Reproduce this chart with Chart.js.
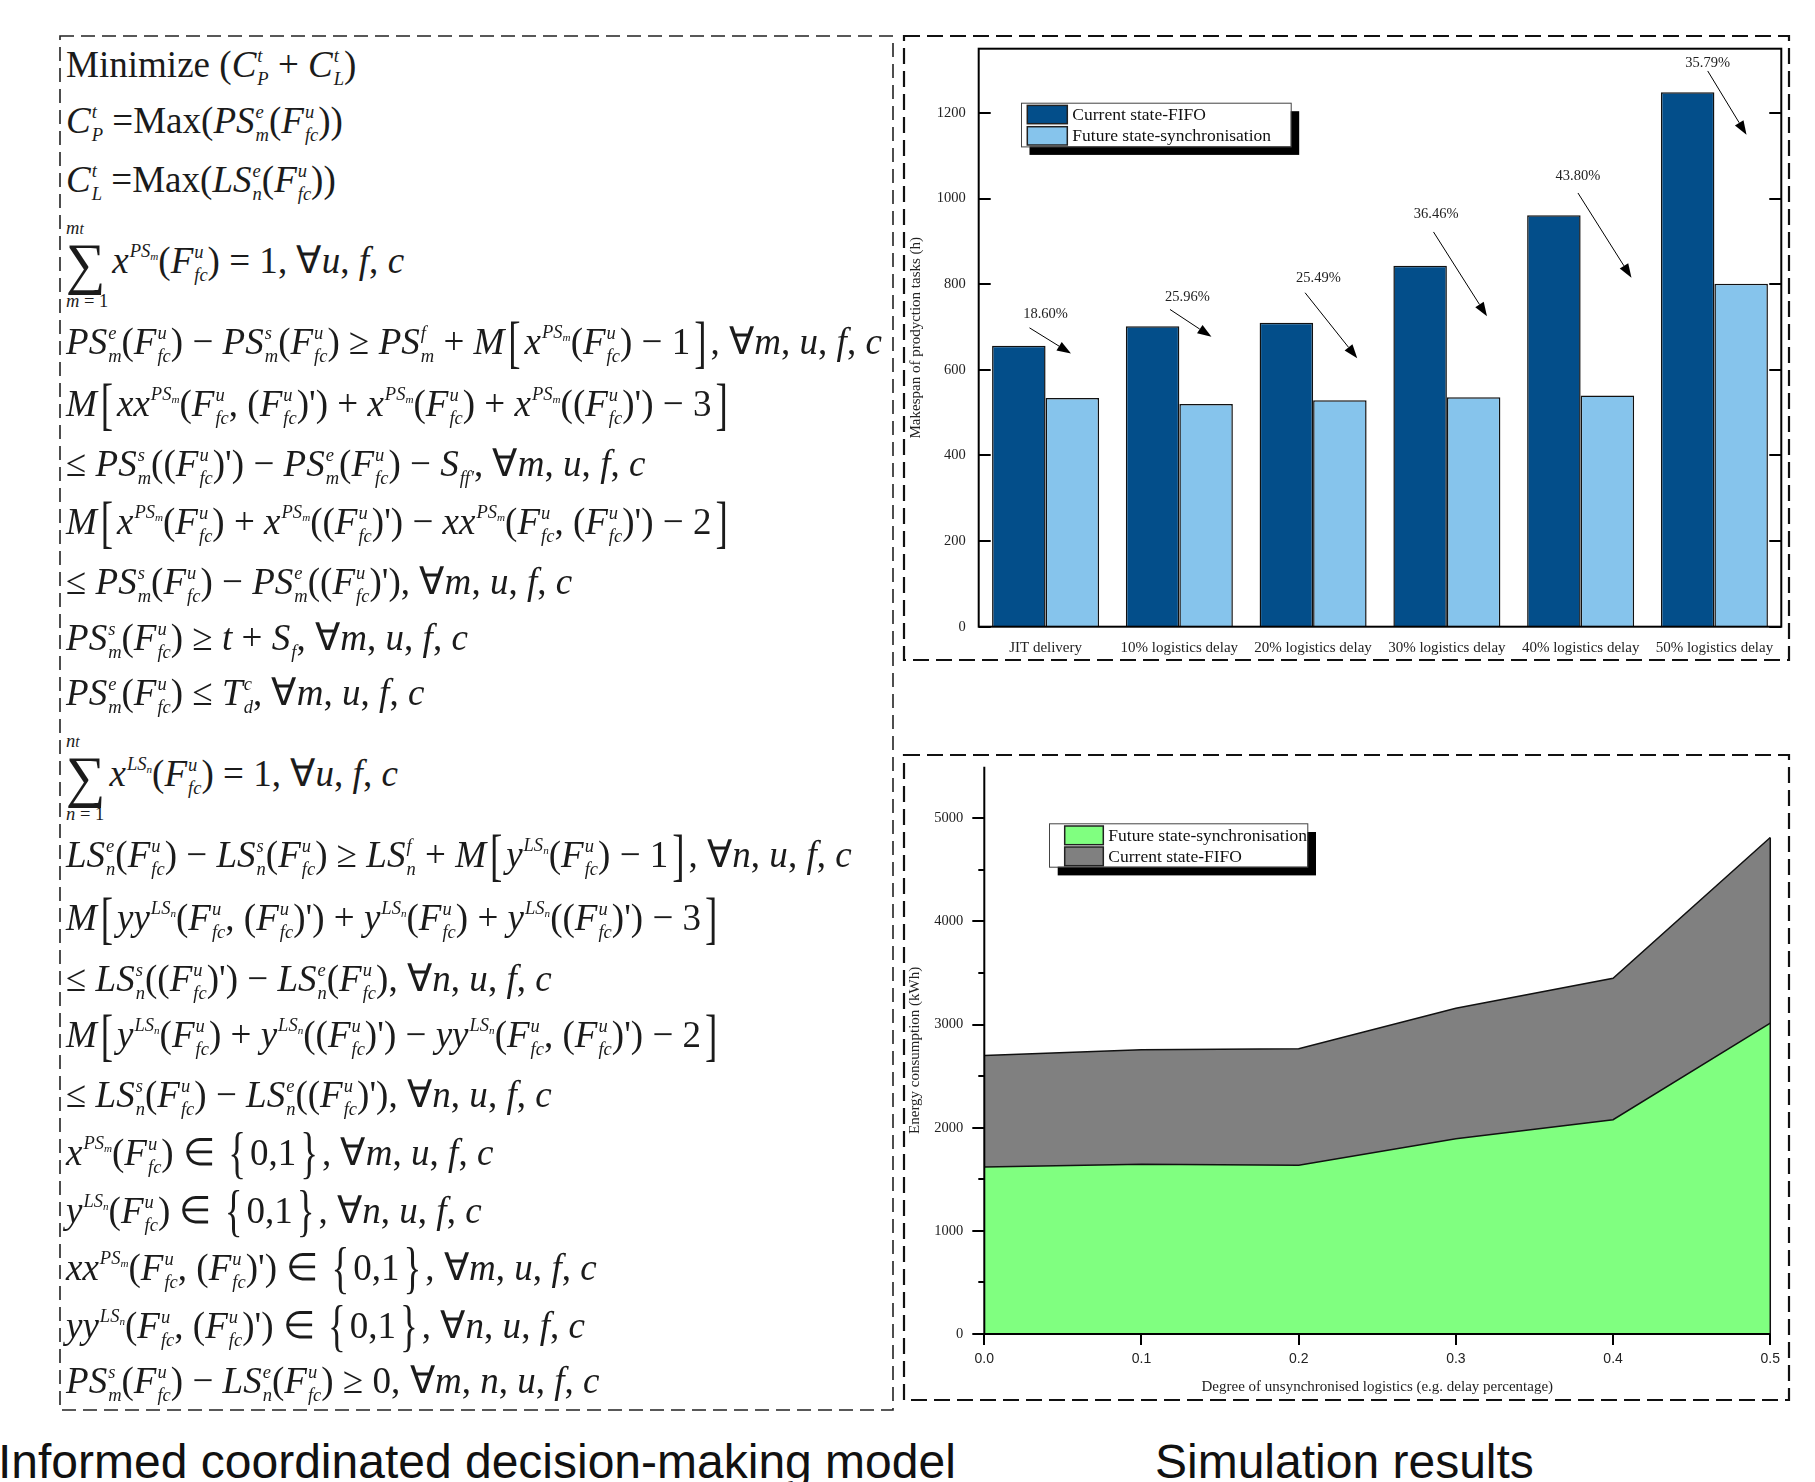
<!DOCTYPE html>
<html>
<head>
<meta charset="utf-8">
<script src="https://cdn.jsdelivr.net/npm/chart.js@4.4.0/dist/chart.umd.min.js"></script>
<style>
  html, body { margin: 0; padding: 0; background: #fff; }
  body { width: 1815px; height: 1482px; position: relative; overflow: hidden; }
  #frames { position: absolute; left: 0; top: 0; }
  canvas { position: absolute; }
  #makespanChart { left: 906px; top: 27px; }
  #energyChart { left: 906px; top: 749px; }
  .eq {
    position: absolute; left: 66px; height: 60px; line-height: 60px;
    font-family: 'Liberation Serif', 'Times New Roman', serif; font-size: 38px;
    color: #1b1b1b; white-space: nowrap; transform-origin: 0 50%;
  }
  .eq i { font-style: italic; }
  .sc { display: inline-block; vertical-align: -8px; font-size: 0.5em; line-height: 1.2; margin-left: 1px; }
  .sc > span { display: block; }
  .sc small { font-size: 0.6em; vertical-align: -0.3em; }
  .br { display: inline-block; transform: scaleY(1.5); margin: 0 4px; font-weight: normal; }
  .sum { display: inline-block; vertical-align: middle; line-height: 1; margin: -24px 4px -24px 0; }
  .sum > span { display: block; }
  .sum .lim { font-size: 0.5em; }
  .sum .sg { font-size: 1.5em; line-height: 0.95; }
  .caption {
    position: absolute; top: 1438px; font-family: 'Liberation Sans', Arial, sans-serif;
    font-size: 48px; line-height: 48px; color: #111; white-space: nowrap;
  }
</style>
</head>
<body>
<svg id="frames" width="1815" height="1482">
  <rect x="60" y="36" width="833" height="1374" fill="none" stroke="#222" stroke-width="1.6" stroke-dasharray="14 7"/>
  <rect x="904" y="36" width="885" height="624" fill="none" stroke="#111" stroke-width="2.2" stroke-dasharray="16 7"/>
  <rect x="904" y="755" width="885" height="645" fill="none" stroke="#111" stroke-width="2.2" stroke-dasharray="16 7"/>
</svg>
<div id="model"></div>
<canvas id="makespanChart" width="880" height="631"></canvas>
<canvas id="energyChart" width="880" height="650"></canvas>
<div class="caption" style="left:-2px">Informed coordinated decision-making model</div>
<div class="caption" style="left:1155px">Simulation results</div>
<script>
// 막대 차트 데이터 (makespan, h)
const scenarios = ['JIT delivery', '10% logistics delay', '20% logistics delay', '30% logistics delay', '40% logistics delay', '50% logistics delay'];
const makespanCurrent = [656, 702, 710, 843, 961, 1248];
const makespanFuture = [534, 520, 529, 536, 540, 801];
const reductionLabels = ['18.60%', '25.96%', '25.49%', '36.46%', '43.80%', '35.79%'];
// 주석 위치 (카테고리 인덱스, 값)
const labelAt = [[0, 730], [1.06, 770], [2.04, 813], [2.92, 963], [3.98, 1052], [4.95, 1317]];
const arrowFrom = [[-0.12, 698], [0.93, 741], [1.94, 780], [2.90, 922], [3.98, 1013], [4.95, 1298]];
const arrowTo = [[0.19, 638], [1.24, 677], [2.33, 627], [3.30, 725], [4.38, 815], [5.24, 1149]];
const makespanTicks = [0, 200, 400, 600, 800, 1000, 1200];

// 에너지 소비 데이터 (kWh)
const delayLevels = [0, 0.1, 0.2, 0.3, 0.4, 0.5];
const energyFuture = [1620, 1646, 1636, 1894, 2078, 3014];
const energyCurrent = [2701, 2756, 2766, 3159, 3449, 4814];
const energyTicks = [0, 1000, 2000, 3000, 4000, 5000];
const energyMinorTicks = [500, 1500, 2500, 3500, 4500];

const DARK = '#034e8a';
const LIGHT = '#86c4ec';
const GREEN = '#80ff80';
const GRAY = '#808080';

Chart.defaults.font.family = "'Liberation Serif', 'Times New Roman', serif";
Chart.defaults.color = '#222';

// ---- 수식 (left panel) ----
const it = s => '<i>' + s + '</i>';
const sc = (base, sup, sub) => base + '<span class="sc"><span>' + (sup || '&#8203;') + '</span><span>' + (sub || '&#8203;') + '</span></span>';
const F = sc(it('F'), it('u'), it('fc'));
const Fp = '(' + F + ")'";
const Cp = sc(it('C'), it('t'), it('P'));
const Cl = sc(it('C'), it('t'), it('L'));
const PSe = sc(it('PS'), it('e'), it('m'));
const PSs = sc(it('PS'), it('s'), it('m'));
const PSf = sc(it('PS'), it('f'), it('m'));
const LSe = sc(it('LS'), it('e'), it('n'));
const LSs = sc(it('LS'), it('s'), it('n'));
const LSf = sc(it('LS'), it('f'), it('n'));
const xPS = sc(it('x'), it('PS<small>m</small>'), '');
const xxPS = sc(it('xx'), it('PS<small>m</small>'), '');
const xLS = sc(it('x'), it('LS<small>n</small>'), '');
const yLS = sc(it('y'), it('LS<small>n</small>'), '');
const yyLS = sc(it('yy'), it('LS<small>n</small>'), '');
const Sff = sc(it('S'), '', it("ff'"));
const Sf = sc(it('S'), '', it('f'));
const Tdc = sc(it('T'), it('c'), it('d'));
const M = it('M');
const L = '<span class="br">[</span>', R = '<span class="br">]</span>';
const LB = '<span class="br">{</span>', RB = '<span class="br">}</span>';
const sum = v => '<span class="sum"><span class="lim">' + it(v) + '<small>' + it('t') + '</small></span><span class="sg">&sum;</span><span class="lim">' + it(v) + ' = 1</span></span>';
const fa = vs => ', &forall;' + vs.map(it).join(', ');

const eqLines = [
  'Minimize (' + Cp + ' + ' + Cl + ')',
  Cp + ' =Max(' + PSe + '(' + F + '))',
  Cl + ' =Max(' + LSe + '(' + F + '))',
  sum('m') + xPS + '(' + F + ') = 1' + fa(['u', 'f', 'c']),
  PSe + '(' + F + ') &minus; ' + PSs + '(' + F + ') &ge; ' + PSf + ' + ' + M + L + xPS + '(' + F + ') &minus; 1' + R + fa(['m', 'u', 'f', 'c']),
  M + L + xxPS + '(' + F + ', ' + Fp + ') + ' + xPS + '(' + F + ') + ' + xPS + '(' + Fp + ') &minus; 3' + R,
  '&le; ' + PSs + '(' + Fp + ') &minus; ' + PSe + '(' + F + ') &minus; ' + Sff + fa(['m', 'u', 'f', 'c']),
  M + L + xPS + '(' + F + ') + ' + xPS + '(' + Fp + ') &minus; ' + xxPS + '(' + F + ', ' + Fp + ') &minus; 2' + R,
  '&le; ' + PSs + '(' + F + ') &minus; ' + PSe + '(' + Fp + ')' + fa(['m', 'u', 'f', 'c']),
  PSs + '(' + F + ') &ge; ' + it('t') + ' + ' + Sf + fa(['m', 'u', 'f', 'c']),
  PSe + '(' + F + ') &le; ' + Tdc + fa(['m', 'u', 'f', 'c']),
  sum('n') + xLS + '(' + F + ') = 1' + fa(['u', 'f', 'c']),
  LSe + '(' + F + ') &minus; ' + LSs + '(' + F + ') &ge; ' + LSf + ' + ' + M + L + yLS + '(' + F + ') &minus; 1' + R + fa(['n', 'u', 'f', 'c']),
  M + L + yyLS + '(' + F + ', ' + Fp + ') + ' + yLS + '(' + F + ') + ' + yLS + '(' + Fp + ') &minus; 3' + R,
  '&le; ' + LSs + '(' + Fp + ') &minus; ' + LSe + '(' + F + ')' + fa(['n', 'u', 'f', 'c']),
  M + L + yLS + '(' + F + ') + ' + yLS + '(' + Fp + ') &minus; ' + yyLS + '(' + F + ', ' + Fp + ') &minus; 2' + R,
  '&le; ' + LSs + '(' + F + ') &minus; ' + LSe + '(' + Fp + ')' + fa(['n', 'u', 'f', 'c']),
  xPS + '(' + F + ') &isin; ' + LB + '0,1' + RB + fa(['m', 'u', 'f', 'c']),
  yLS + '(' + F + ') &isin; ' + LB + '0,1' + RB + fa(['n', 'u', 'f', 'c']),
  xxPS + '(' + F + ', ' + Fp + ') &isin; ' + LB + '0,1' + RB + fa(['m', 'u', 'f', 'c']),
  yyLS + '(' + F + ', ' + Fp + ') &isin; ' + LB + '0,1' + RB + fa(['n', 'u', 'f', 'c']),
  PSs + '(' + F + ') &minus; ' + LSe + '(' + F + ') &ge; 0' + fa(['m', 'n', 'u', 'f', 'c'])
];
const eqCenters = [64, 120, 179, 260, 341, 403, 463, 521, 581, 637, 692, 773, 854, 917, 978, 1034, 1094, 1152, 1210, 1267, 1325, 1380];

const model = document.getElementById('model');
const eqEls = eqLines.map((html, i) => {
  const d = document.createElement('div');
  d.className = 'eq';
  d.style.top = (eqCenters[i] - 30) + 'px';
  d.innerHTML = html;
  model.appendChild(d);
  return d;
});
// 가장 긴 줄(5번째) 기준으로 가로 폭 맞춤
const squeeze = 816 / eqEls[4].offsetWidth;
eqEls.forEach(d => { d.style.transform = 'scaleX(' + squeeze + ')'; });

// ---- 공통 그리기 함수 ----
function drawShadowLegend(ctx, left, top, w, h, items, o) {
  ctx.fillStyle = '#000';
  ctx.fillRect(left + o.shadow, top + o.shadow, w, h);
  ctx.fillStyle = '#fff';
  ctx.fillRect(left, top, w, h);
  ctx.strokeStyle = '#444';
  ctx.lineWidth = 1;
  ctx.strokeRect(left + 0.5, top + 0.5, w, h);
  items.forEach((item, i) => {
    const sy = top + o.rowTop + i * o.rowH;
    ctx.fillStyle = item.color;
    ctx.fillRect(left + o.swX, sy, o.swW, o.swH);
    ctx.strokeStyle = '#222';
    ctx.lineWidth = 1.5;
    ctx.strokeRect(left + o.swX, sy, o.swW, o.swH);
    ctx.fillStyle = '#111';
    ctx.font = "17.5px 'Liberation Serif'";
    ctx.textBaseline = 'middle';
    ctx.textAlign = 'left';
    ctx.fillText(item.label, left + o.txX, sy + o.swH / 2 + 1);
  });
}

function drawArrow(ctx, x1, y1, x2, y2) {
  const ang = Math.atan2(y2 - y1, x2 - x1);
  const head = 14, half = 5;
  const c = Math.cos(ang), s = Math.sin(ang);
  ctx.beginPath();
  ctx.moveTo(x1, y1);
  ctx.lineTo(x2 - head * c, y2 - head * s);
  ctx.stroke();
  ctx.beginPath();
  ctx.moveTo(x2, y2);
  ctx.lineTo(x2 - head * c + half * s, y2 - head * s - half * c);
  ctx.lineTo(x2 - head * c - half * s, y2 - head * s + half * c);
  ctx.closePath();
  ctx.fill();
}

// ---- 막대 차트 플러그인: 테두리, 안쪽 눈금, 화살표, 범례 ----
const makespanDecor = {
  id: 'makespanDecor',
  afterDatasetsDraw(chart) {
    const { ctx, chartArea: a, scales: { x, y } } = chart;
    ctx.save();
    ctx.strokeStyle = '#000';
    ctx.lineWidth = 2;
    ctx.strokeRect(a.left, a.top, a.right - a.left, a.bottom - a.top);
    makespanTicks.forEach(v => {
      const py = Math.round(y.getPixelForValue(v));
      ctx.beginPath();
      ctx.moveTo(a.left, py); ctx.lineTo(a.left + 12, py);
      ctx.moveTo(a.right, py); ctx.lineTo(a.right - 12, py);
      ctx.stroke();
    });
    ctx.lineWidth = 1;
    ctx.fillStyle = '#000';
    reductionLabels.forEach((txt, i) => {
      drawArrow(ctx,
        x.getPixelForValue(arrowFrom[i][0]), y.getPixelForValue(arrowFrom[i][1]),
        x.getPixelForValue(arrowTo[i][0]), y.getPixelForValue(arrowTo[i][1]));
      ctx.fillStyle = '#222';
      ctx.font = "14.5px 'Liberation Serif'";
      ctx.textAlign = 'center';
      ctx.textBaseline = 'middle';
      ctx.fillText(txt, x.getPixelForValue(labelAt[i][0]), y.getPixelForValue(labelAt[i][1]));
      ctx.fillStyle = '#000';
    });
    const ds = chart.data.datasets;
    drawShadowLegend(ctx, a.left + 42.3, a.top + 54, 269.7, 43.7,
      ds.map(d => ({ label: d.label, color: d.backgroundColor })),
      { shadow: 8.5, swX: 6.3, rowTop: 2.7, rowH: 21.3, swW: 40, swH: 18.3, txX: 51.3 });
    ctx.restore();
  }
};

new Chart(document.getElementById('makespanChart'), {
  type: 'bar',
  data: {
    labels: scenarios,
    datasets: [
      { label: 'Current state-FIFO', data: makespanCurrent, backgroundColor: DARK, borderColor: '#111', borderWidth: 1.5 },
      { label: 'Future state-synchronisation', data: makespanFuture, backgroundColor: LIGHT, borderColor: '#111', borderWidth: 1.5 }
    ]
  },
  options: {
    responsive: false,
    animation: false,
    devicePixelRatio: 1,
    layout: { padding: { top: 0, right: 4.3, left: 0, bottom: 0 } },
    datasets: { bar: { categoryPercentage: 0.8, barPercentage: 1.0 } },
    plugins: { legend: { display: false }, tooltip: { enabled: false } },
    scales: {
      x: {
        grid: { display: false, drawTicks: false },
        border: { display: false },
        ticks: { font: { size: 15 }, color: '#222', padding: 12.5, maxRotation: 0, minRotation: 0, autoSkip: false },
        afterFit: s => { s.height = 31.3; }
      },
      y: {
        min: 0, max: 1350,
        grid: { display: false, drawTicks: false },
        border: { display: false },
        ticks: { stepSize: 200, font: { size: 14.5 }, color: '#222', padding: 13, callback: v => String(v) },
        afterBuildTicks: s => { s.ticks = makespanTicks.map(v => ({ value: v })); },
        title: { display: true, text: 'Makespan of prodyction tasks (h)', font: { size: 15 }, color: '#222', padding: { top: 1, bottom: 0 } },
        afterFit: s => { s.width = 72.7; }
      }
    }
  },
  plugins: [makespanDecor]
});

// ---- 면적 차트 플러그인: 축, 보조 눈금, 범례 ----
const energyDecor = {
  id: 'energyDecor',
  afterDatasetsDraw(chart) {
    const { ctx, chartArea: a, scales: { x, y } } = chart;
    ctx.save();
    ctx.strokeStyle = '#111';
    ctx.lineWidth = 1.5;
    const lastX = x.getPixelForValue(delayLevels[delayLevels.length - 1]);
    ctx.beginPath();
    ctx.moveTo(lastX, y.getPixelForValue(0));
    ctx.lineTo(lastX, y.getPixelForValue(energyCurrent[energyCurrent.length - 1]));
    ctx.stroke();
    ctx.strokeStyle = '#000';
    ctx.lineWidth = 2;
    ctx.beginPath();
    ctx.moveTo(a.left, a.top); ctx.lineTo(a.left, a.bottom); ctx.lineTo(a.right, a.bottom);
    ctx.stroke();
    energyMinorTicks.forEach(v => {
      const py = Math.round(y.getPixelForValue(v));
      ctx.beginPath();
      ctx.moveTo(a.left, py); ctx.lineTo(a.left - 6, py);
      ctx.stroke();
    });
    const ds = chart.data.datasets;
    drawShadowLegend(ctx, a.left + 64.7, a.top + 56.6, 258.3, 43.4,
      ds.map(d => ({ label: d.label, color: d.backgroundColor })),
      { shadow: 8.7, swX: 15.7, rowTop: 2.7, rowH: 21, swW: 38.6, swH: 18.7, txX: 59.3 });
    ctx.restore();
  }
};

new Chart(document.getElementById('energyChart'), {
  type: 'line',
  data: {
    datasets: [
      { label: 'Future state-synchronisation', data: delayLevels.map((d, i) => ({ x: d, y: energyFuture[i] })),
        backgroundColor: GREEN, borderColor: '#111', borderWidth: 1.5, fill: 'origin', pointRadius: 0, tension: 0 },
      { label: 'Current state-FIFO', data: delayLevels.map((d, i) => ({ x: d, y: energyCurrent[i] })),
        backgroundColor: GRAY, borderColor: '#111', borderWidth: 1.5, fill: 'origin', pointRadius: 0, tension: 0 }
    ]
  },
  options: {
    responsive: false,
    animation: false,
    devicePixelRatio: 1,
    layout: { padding: { top: 0, right: 14.3, left: 0, bottom: 0 } },
    plugins: { legend: { display: false }, tooltip: { enabled: false } },
    scales: {
      x: {
        type: 'linear', min: 0, max: 0.5,
        grid: { display: true, drawOnChartArea: false, drawTicks: true, tickLength: 11, color: '#000', lineWidth: 2 },
        border: { display: false },
        ticks: { stepSize: 0.1, font: { family: "'Liberation Sans', Arial, sans-serif", size: 14 }, color: '#222', padding: 6,
          maxRotation: 0, callback: v => Number(v).toFixed(1) },
        title: { display: true, text: 'Degree of unsynchronised logistics (e.g. delay percentage)', font: { size: 15 }, color: '#222', padding: { top: 0, bottom: 2.7 } },
        afterFit: s => { s.height = 65; }
      },
      y: {
        min: 0, max: 5500,
        grid: { display: true, drawOnChartArea: false, drawTicks: true, tickLength: 12, color: '#000', lineWidth: 2 },
        border: { display: false },
        ticks: { stepSize: 1000, font: { size: 14.5 }, color: '#222', padding: 9, callback: v => String(v) },
        afterBuildTicks: s => { s.ticks = energyTicks.map(v => ({ value: v })); },
        title: { display: true, text: 'Energy consumption (kWh)', font: { size: 15 }, color: '#222', padding: { top: 0, bottom: 0 } },
        afterFit: s => { s.width = 78.3; }
      }
    }
  },
  plugins: [energyDecor]
});
</script>
</body>
</html>
